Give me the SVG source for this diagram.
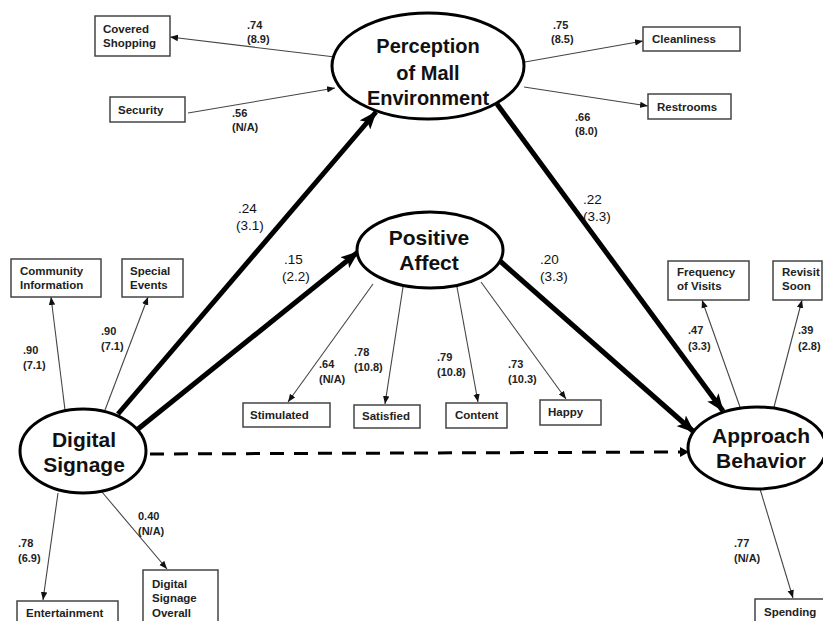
<svg xmlns="http://www.w3.org/2000/svg" width="823" height="621" viewBox="0 0 823 621">
  <defs>
    <style>
      .box { fill: #fff; stroke: #444; stroke-width: 1.5; }
      .lat { fill: #fff; stroke: #000; stroke-width: 3; }
      .lt { font-family: "Liberation Sans", Arial, sans-serif; font-weight: bold; font-size: 21px; fill: #111; text-anchor: middle; }
      .lt.sm { font-size: 20px; }
      .bt { font-family: "Liberation Sans", Arial, sans-serif; font-weight: bold; font-size: 11.5px; fill: #222; }
      .nt { font-family: "Liberation Sans", Arial, sans-serif; font-weight: bold; font-size: 11px; fill: #222; }
      .pt { font-family: "Liberation Sans", Arial, sans-serif; font-size: 13.5px; fill: #111; }
      .thin { stroke: #444; stroke-width: 1.1; fill: none; }
      .thick { stroke: #000; stroke-width: 5; fill: none; }
      .dash { stroke: #000; stroke-width: 3; stroke-dasharray: 14 10; fill: none; }
    </style>
    <marker id="arr" markerUnits="userSpaceOnUse" markerWidth="8" markerHeight="8" viewBox="0 0 8 8" refX="8" refY="4" orient="auto">
      <path d="M0,0.8 L8,4 L0,7.2 Z" fill="#111"/>
    </marker>
    <marker id="big" markerUnits="userSpaceOnUse" markerWidth="18" markerHeight="14" viewBox="0 0 18 14" refX="17" refY="7" orient="auto">
      <path d="M0,0 L18,7 L0,14 L4,7 Z" fill="#000"/>
    </marker>
  </defs>

  <!-- connectors -->
  <g id="connectors">
    <!-- structural paths -->
    <line class="thick" x1="118" y1="414" x2="376" y2="112" marker-end="url(#big)"/>
    <line class="thick" x1="138" y1="429" x2="358" y2="252" marker-end="url(#big)"/>
    <line class="thick" x1="497" y1="104" x2="723" y2="411" marker-end="url(#big)"/>
    <line class="thick" x1="500" y1="261" x2="694" y2="432" marker-end="url(#big)"/>
    <line class="dash" x1="150" y1="454" x2="680" y2="452"/>
    <path d="M680,447 L689,452 L680,457 Z" fill="#000"/>

    <!-- measurement paths -->
    <line class="thin" x1="335" y1="57" x2="170" y2="37" marker-end="url(#arr)"/>
    <line class="thin" x1="188" y1="113" x2="335" y2="88" marker-end="url(#arr)"/>
    <line class="thin" x1="525" y1="62" x2="643" y2="41" marker-end="url(#arr)"/>
    <line class="thin" x1="524" y1="87" x2="648" y2="106" marker-end="url(#arr)"/>
    <line class="thin" x1="65" y1="410" x2="51" y2="297" marker-end="url(#arr)"/>
    <line class="thin" x1="105" y1="410" x2="148" y2="297" marker-end="url(#arr)"/>
    <line class="thin" x1="58" y1="493" x2="43" y2="600" marker-end="url(#arr)"/>
    <line class="thin" x1="102" y1="492" x2="167" y2="569" marker-end="url(#arr)"/>
    <line class="thin" x1="373" y1="284" x2="288" y2="402" marker-end="url(#arr)"/>
    <line class="thin" x1="403" y1="287" x2="385" y2="404" marker-end="url(#arr)"/>
    <line class="thin" x1="457" y1="287" x2="478" y2="402" marker-end="url(#arr)"/>
    <line class="thin" x1="481" y1="282" x2="566" y2="399" marker-end="url(#arr)"/>
    <line class="thin" x1="740" y1="407" x2="702" y2="300" marker-end="url(#arr)"/>
    <line class="thin" x1="774" y1="407" x2="802" y2="300" marker-end="url(#arr)"/>
    <line class="thin" x1="760" y1="489" x2="793" y2="598" marker-end="url(#arr)"/>
  </g>

  <!-- path coefficients -->
  <g id="path-labels">
    <text class="pt" x="238" y="213">.24</text>
    <text class="pt" x="236" y="230">(3.1)</text>
    <text class="pt" x="284" y="264">.15</text>
    <text class="pt" x="282" y="281">(2.2)</text>
    <text class="pt" x="583" y="204">.22</text>
    <text class="pt" x="583" y="221">(3.3)</text>
    <text class="pt" x="540" y="264">.20</text>
    <text class="pt" x="540" y="281">(3.3)</text>

    <text class="nt" x="247" y="29">.74</text>
    <text class="nt" x="247" y="43">(8.9)</text>
    <text class="nt" x="232" y="117">.56</text>
    <text class="nt" x="232" y="131">(N/A)</text>
    <text class="nt" x="553" y="29">.75</text>
    <text class="nt" x="551" y="43">(8.5)</text>
    <text class="nt" x="575" y="121">.66</text>
    <text class="nt" x="575" y="135">(8.0)</text>
    <text class="nt" x="23" y="354">.90</text>
    <text class="nt" x="23" y="369">(7.1)</text>
    <text class="nt" x="101" y="335">.90</text>
    <text class="nt" x="101" y="350">(7.1)</text>
    <text class="nt" x="18" y="547">.78</text>
    <text class="nt" x="18" y="562">(6.9)</text>
    <text class="nt" x="138" y="520">0.40</text>
    <text class="nt" x="138" y="535">(N/A)</text>
    <text class="nt" x="319" y="368">.64</text>
    <text class="nt" x="319" y="383">(N/A)</text>
    <text class="nt" x="354" y="356">.78</text>
    <text class="nt" x="354" y="371">(10.8)</text>
    <text class="nt" x="437" y="361">.79</text>
    <text class="nt" x="437" y="376">(10.8)</text>
    <text class="nt" x="508" y="368">.73</text>
    <text class="nt" x="508" y="383">(10.3)</text>
    <text class="nt" x="688" y="334">.47</text>
    <text class="nt" x="688" y="350">(3.3)</text>
    <text class="nt" x="798" y="334">.39</text>
    <text class="nt" x="798" y="350">(2.8)</text>
    <text class="nt" x="734" y="547">.77</text>
    <text class="nt" x="734" y="562">(N/A)</text>
  </g>

  <!-- latent constructs -->
  <g id="perception">
    <ellipse class="lat" cx="428" cy="66" rx="96" ry="53"/>
    <text class="lt sm" x="428" y="53">Perception</text>
    <text class="lt sm" x="428" y="80">of Mall</text>
    <text class="lt sm" x="428" y="105">Environment</text>
  </g>
  <g id="positive-affect">
    <ellipse class="lat" cx="430" cy="250" rx="73" ry="38"/>
    <text class="lt" x="429" y="245">Positive</text>
    <text class="lt" x="429" y="270">Affect</text>
  </g>
  <g id="digital-signage">
    <ellipse class="lat" cx="83" cy="451" rx="63" ry="42"/>
    <text class="lt" x="84" y="447">Digital</text>
    <text class="lt" x="84" y="472">Signage</text>
  </g>
  <g id="approach-behavior">
    <ellipse class="lat" cx="757" cy="448" rx="69" ry="41"/>
    <text class="lt" x="761" y="443">Approach</text>
    <text class="lt" x="761" y="468">Behavior</text>
  </g>

  <!-- indicators -->
  <g id="covered-shopping">
    <rect class="box" x="95" y="16" width="75" height="40"/>
    <text class="bt" x="103" y="33">Covered</text>
    <text class="bt" x="103" y="47">Shopping</text>
  </g>
  <g id="security">
    <rect class="box" x="110" y="97" width="75" height="25"/>
    <text class="bt" x="118" y="114">Security</text>
  </g>
  <g id="cleanliness">
    <rect class="box" x="643" y="27" width="97" height="24"/>
    <text class="bt" x="652" y="43">Cleanliness</text>
  </g>
  <g id="restrooms">
    <rect class="box" x="648" y="94" width="83" height="25"/>
    <text class="bt" x="657" y="111">Restrooms</text>
  </g>
  <g id="community-information">
    <rect class="box" x="11" y="259" width="90" height="38"/>
    <text class="bt" x="20" y="275">Community</text>
    <text class="bt" x="20" y="289">Information</text>
  </g>
  <g id="special-events">
    <rect class="box" x="122" y="259" width="61" height="38"/>
    <text class="bt" x="130" y="275">Special</text>
    <text class="bt" x="130" y="289">Events</text>
  </g>
  <g id="stimulated">
    <rect class="box" x="243" y="403" width="87" height="24"/>
    <text class="bt" x="250" y="419">Stimulated</text>
  </g>
  <g id="satisfied">
    <rect class="box" x="354" y="405" width="66" height="23"/>
    <text class="bt" x="362" y="420">Satisfied</text>
  </g>
  <g id="content">
    <rect class="box" x="446" y="403" width="61" height="25"/>
    <text class="bt" x="455" y="419">Content</text>
  </g>
  <g id="happy">
    <rect class="box" x="540" y="400" width="61" height="25"/>
    <text class="bt" x="548" y="416">Happy</text>
  </g>
  <g id="frequency-of-visits">
    <rect class="box" x="668" y="261" width="81" height="39"/>
    <text class="bt" x="677" y="276">Frequency</text>
    <text class="bt" x="677" y="290">of Visits</text>
  </g>
  <g id="revisit-soon">
    <rect class="box" x="773" y="261" width="49" height="39"/>
    <text class="bt" x="782" y="276">Revisit</text>
    <text class="bt" x="782" y="290">Soon</text>
  </g>
  <g id="entertainment">
    <rect class="box" x="17" y="601" width="101" height="30"/>
    <text class="bt" x="26" y="617">Entertainment</text>
  </g>
  <g id="digital-signage-overall">
    <rect class="box" x="143" y="570" width="75" height="60"/>
    <text class="bt" x="152" y="588">Digital</text>
    <text class="bt" x="152" y="602">Signage</text>
    <text class="bt" x="152" y="617">Overall</text>
  </g>
  <g id="spending">
    <rect class="box" x="755" y="599" width="75" height="30"/>
    <text class="bt" x="764" y="616">Spending</text>
  </g>
</svg>
